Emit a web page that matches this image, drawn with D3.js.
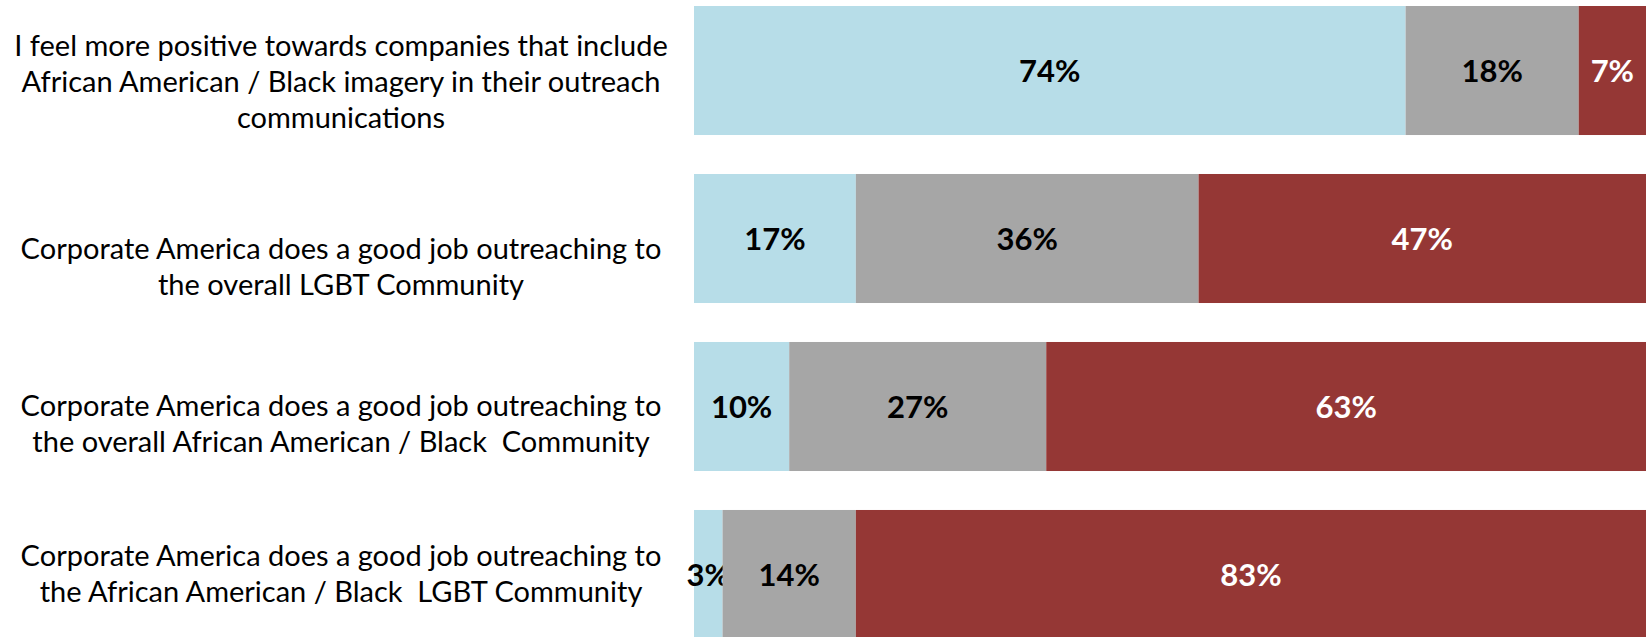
<!DOCTYPE html>
<html>
<head>
<meta charset="utf-8">
<script src="https://cdn.jsdelivr.net/npm/d3@7"></script>
<style>
  body { margin: 0; background: #fff; }
  svg { display: block; }
</style>
</head>
<body>
<script>
// statements (lines split with "|")
var categories = [
  "I feel more positive towards companies that include|African American / Black imagery in their outreach|communications",
  "Corporate America does a good job outreaching to|the overall LGBT Community",
  "Corporate America does a good job outreaching to|the overall African American / Black  Community",
  "Corporate America does a good job outreaching to|the African American / Black  LGBT Community"
];
var agree    = [74, 17, 10, 3];
var neutral  = [18, 36, 27, 14];
var disagree = [7, 47, 63, 83];

var seriesKeys = ["agree", "neutral", "disagree"];
var colors = {agree: "#b7dde8", neutral: "#a6a6a6", disagree: "#953735"};
var labelColors = {agree: "#000", neutral: "#000", disagree: "#fff"};

// hand placed text boxes, offset from bar centre
var labelShift = [11, 28, 17, -1];

var width = 1646, height = 637;

var table = categories.map(function(c, i) {
  return {cat: c, agree: agree[i], neutral: neutral[i], disagree: disagree[i]};
});

var stack = d3.stack().keys(seriesKeys).offset(d3.stackOffsetExpand);
var layers = stack(table);

var x = d3.scaleLinear().domain([0, 1]).range([694, 1646]);
var y = d3.scaleBand()
    .domain(categories)
    .range([6, 639])
    .paddingInner(0.232)
    .paddingOuter(0);

var svg = d3.select("body").append("svg")
    .attr("width", width)
    .attr("height", height);

var groups = svg.selectAll("g.layer")
  .data(layers)
  .enter().append("g")
    .attr("class", "layer")
    .attr("fill", function(d) { return colors[d.key]; });

groups.selectAll("rect")
  .data(function(d) { return d; })
  .enter().append("rect")
    .attr("x", function(d) { return x(d[0]); })
    .attr("y", function(d) { return y(d.data.cat); })
    .attr("width", function(d) { return x(d[1]) - x(d[0]); })
    .attr("height", y.bandwidth());

// value labels
groups.selectAll("text")
  .data(function(d) { return d.map(function(p) { p.key = d.key; return p; }); })
  .enter().append("text")
    .attr("x", function(d) { return (x(d[0]) + x(d[1])) / 2; })
    .attr("y", function(d) { return y(d.data.cat) + y.bandwidth() / 2; })
    .attr("dy", "0.36em")
    .attr("text-anchor", "middle")
    .style("font-family", "Lato, 'Open Sans', sans-serif")
    .style("font-weight", "bold")
    .style("font-size", "31px")
    .attr("fill", function(d) { return labelColors[d.key]; })
    .text(function(d) { return d.data[d.key] + "%"; });

// category labels
var lineH = 36;
var cats = svg.append("g").attr("class", "cats")
  .selectAll("text")
  .data(categories)
  .enter().append("text")
    .attr("text-anchor", "middle")
    .attr("xml:space", "preserve")
    .style("white-space", "pre")
    .style("font-family", "Lato, 'Open Sans', sans-serif")
    .style("font-size", "29px")
    .attr("fill", "#000");

cats.each(function(c, i) {
  var lines = c.split("|");
  var cy = y(c) + y.bandwidth() / 2 + labelShift[i];
  var t = d3.select(this);
  lines.forEach(function(line, j) {
    t.append("tspan")
      .attr("x", 341)
      .attr("y", cy + (j - (lines.length - 1) / 2) * lineH)
      .attr("dy", "0.35em")
      .text(line);
  });
});
</script>
</body>
</html>
